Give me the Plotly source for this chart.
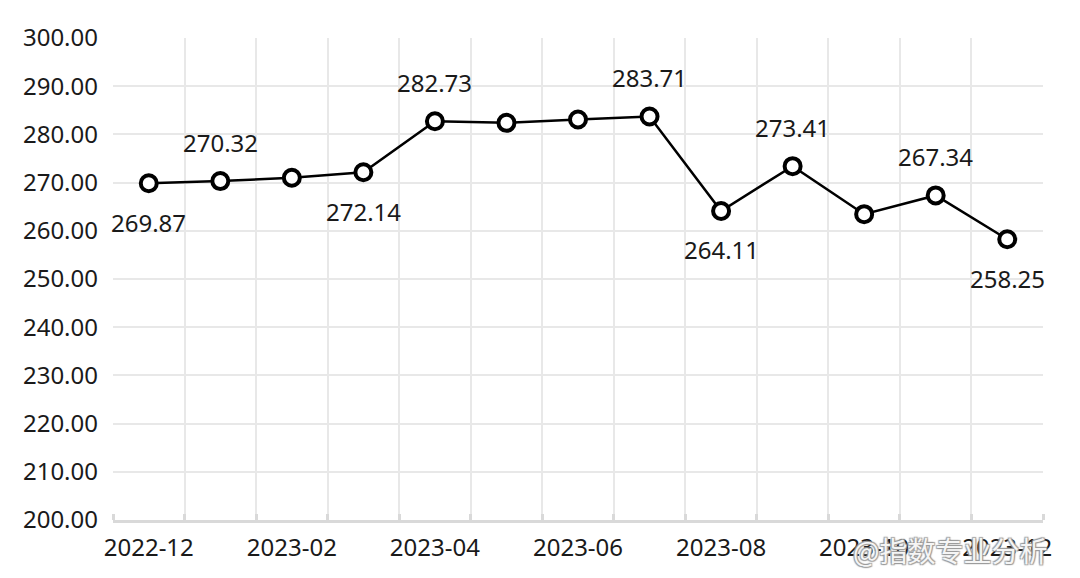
import plotly.graph_objects as go

months = ["2022-12", "2023-01", "2023-02", "2023-03", "2023-04", "2023-05", "2023-06",
          "2023-07", "2023-08", "2023-09", "2023-10", "2023-11", "2023-12"]
values = [269.87, 270.32, 271.0, 272.14, 282.73, 282.4, 283.1,
          283.71, 264.11, 273.41, 263.45, 267.34, 258.25]
# which points carry a data label, and where (1 = above, -1 = below)
label_side = [-1, 1, 0, -1, 1, 0, 0, 1, -1, 1, 0, 1, -1]
y_ticks = [200, 210, 220, 230, 240, 250, 260, 270, 280, 290, 300]

xs = list(range(len(months)))
FONT = "Noto Sans, Open Sans, sans-serif"

fig = go.Figure()
fig.add_trace(go.Scatter(
    x=xs, y=values, mode="lines+markers",
    line=dict(color="#000000", width=2.5),
    marker=dict(size=16, color="#ffffff", line=dict(color="#000000", width=4)),
    hoverinfo="skip", showlegend=False, cliponaxis=False,
))

for x, v, s in zip(xs, values, label_side):
    if s == 0:
        continue
    fig.add_annotation(x=x, y=v, text=f"{v:.2f}", showarrow=False,
                       yshift=39 * s, font=dict(family=FONT, size=24, color="#1a1a1a"))

fig.add_annotation(xref="paper", yref="paper", x=1.008, y=-0.062, xanchor="right", yanchor="middle",
                   text="@指数专业分析", showarrow=False,
                   font=dict(family="Noto Sans CJK SC", size=28, color="rgba(255,255,255,0.92)",
                             shadow="1px 1px 1px #999, -1px -1px 1px #999, 1px -1px 1px #999, -1px 1px 1px #999"))

fig.update_layout(
    width=1080, height=578,
    margin=dict(l=105, r=45, t=24, b=66),
    paper_bgcolor="#ffffff", plot_bgcolor="#ffffff",
    font=dict(family=FONT, size=24, color="#1a1a1a"),
    xaxis=dict(
        range=[-0.5, len(months) - 0.5],
        tickmode="array", tickvals=xs[::2], ticktext=months[::2],
        showgrid=False, zeroline=False,
        showline=True, linecolor="#d9d9d9", linewidth=3,
        ticks="", ticklabelstandoff=4,
        tickfont=dict(family=FONT, size=24, color="#1a1a1a"),
        minor=dict(tickmode="array", tickvals=[i - 0.5 for i in range(len(months) + 1)],
                   showgrid=True, gridcolor="#e8e8e8", gridwidth=1.5,
                   ticks="inside", ticklen=6, tickcolor="#d9d9d9", tickwidth=3),
    ),
    yaxis=dict(
        range=[200, 300], tickmode="array", tickvals=y_ticks, tickformat=".2f",
        showgrid=True, gridcolor="#e8e8e8", gridwidth=1.5, zeroline=False,
        showline=False, ticks="", ticklabelstandoff=14,
        tickfont=dict(family=FONT, size=24, color="#1a1a1a"),
    ),
)

fig.write_html("out.html")
